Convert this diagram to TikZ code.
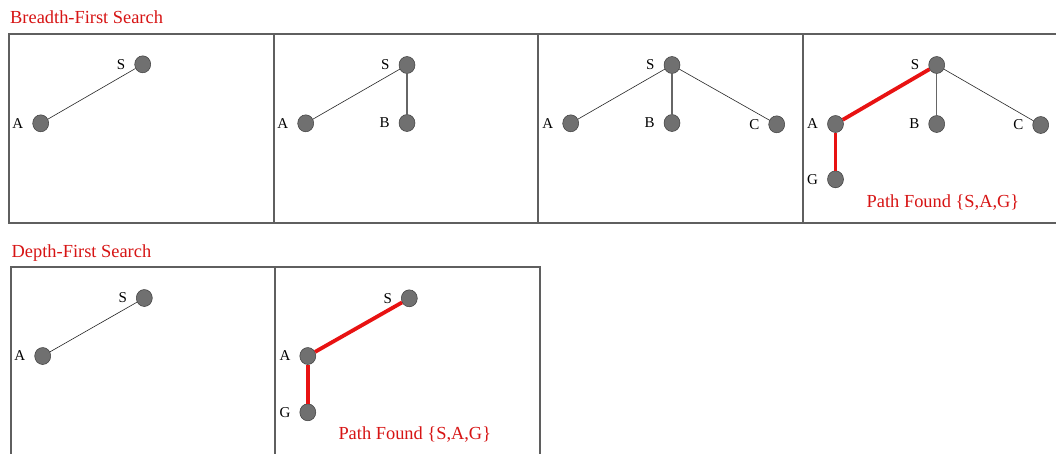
\documentclass[tikz,border=0pt]{standalone}
\usepackage{fontspec}
\setmainfont{Liberation Serif}
\usetikzlibrary{shapes.geometric}
\definecolor{boxgray}{RGB}{95,95,95}
\definecolor{nodefill}{RGB}{112,112,112}
\definecolor{nodeedge}{RGB}{60,60,60}
\definecolor{pathred}{RGB}{232,18,18}
\definecolor{textred}{RGB}{215,20,20}
\begin{document}
\begin{tikzpicture}[x=1pt,y=-1pt,
  vert/.style={ellipse,draw=nodeedge,fill=nodefill,line width=0.5pt,minimum width=16pt,minimum height=17pt,inner sep=0pt},
  lab/.style={font=\fontsize{15}{16}\selectfont,inner sep=0pt},
  every label/.style={lab},
  label distance=9pt,
  boxline/.style={draw=boxgray,line width=1.2pt},
  thinedge/.style={draw=black!85,line width=0.6pt},
  vedge/.style={draw=black!60,line width=1.3pt},
  redge/.style={draw=pathred,line width=3.8pt},
  title/.style={font=\fontsize{18.4}{20}\selectfont,text=textred,inner sep=0pt,anchor=base west},
]
\useasboundingbox (0,0) rectangle (1056,453);
\fill[white] (0,0) rectangle (1056,453);

% titles
\node[title] (t1) at (10,23.3) {Breadth-First Search};
\node[title] (t2) at (11.5,257.3) {Depth-First Search};

% boxes
\draw[boxline] (9,34) rectangle (1075,223);
\draw[boxline] (274,34) -- (274,223);
\draw[boxline] (538,34) -- (538,223);
\draw[boxline] (803,34) -- (803,223);
\draw[boxline] (11,267) rectangle (540,475);
\draw[boxline] (275,267) -- (275,475);

% BFS panel 1
\node[vert,label=left:S] (aS) at (142.7,64.3) {};
\node[vert,label=left:A] (aA) at (40.7,123.3) {};
\draw[thinedge] (aS) -- (aA);

% BFS panel 2
\node[vert,label=left:S] (bS) at (407,65) {};
\node[vert,label=left:A] (bA) at (305.7,123.3) {};
\node[vert,label=left:B] (bB) at (407,123) {};
\draw[thinedge] (bS) -- (bA);
\draw[vedge] (bS) -- (bB);

% BFS panel 3
\node[vert,label=left:S] (cS) at (672,65) {};
\node[vert,label=left:A] (cA) at (570.7,123.3) {};
\node[vert,label=left:B] (cB) at (672,123) {};
\node[vert,label distance=6pt,label=left:C] (cC) at (776.7,124.3) {};
\draw[thinedge] (cS) -- (cA);
\draw[vedge] (cS) -- (cB);
\draw[thinedge] (cS) -- (cC);

% BFS panel 4
\node[vert,label=left:S] (dS) at (936.7,65) {};
\node[vert,label=left:A] (dA) at (835.5,124) {};
\node[vert,label=left:B] (dB) at (936.7,124) {};
\node[vert,label distance=6pt,label=left:C] (dC) at (1040.7,125) {};
\node[vert,label=left:G] (dG) at (835.5,179.3) {};
\draw[vedge] (dS) -- (dB);
\draw[thinedge] (dS) -- (dC);
\draw[redge] (dS) -- (dA);
\draw[redge] (dA) -- (dG);
\node[title] (dP) at (866.5,207.7) {Path Found \{S,A,G\}};

% DFS panel 1
\node[vert,label=left:S] (eS) at (144.3,298) {};
\node[vert,label=left:A] (eA) at (42.7,356) {};
\draw[thinedge] (eS) -- (eA);

% DFS panel 2
\node[vert,label=left:S] (fS) at (409.3,298.3) {};
\node[vert,label=left:A] (fA) at (307.8,356) {};
\node[vert,label=left:G] (fG) at (307.8,412.3) {};
\draw[redge] (fS) -- (fA);
\draw[redge] (fA) -- (fG);
\node[title] (fP) at (338.3,439.3) {Path Found \{S,A,G\}};
\end{tikzpicture}
\end{document}
